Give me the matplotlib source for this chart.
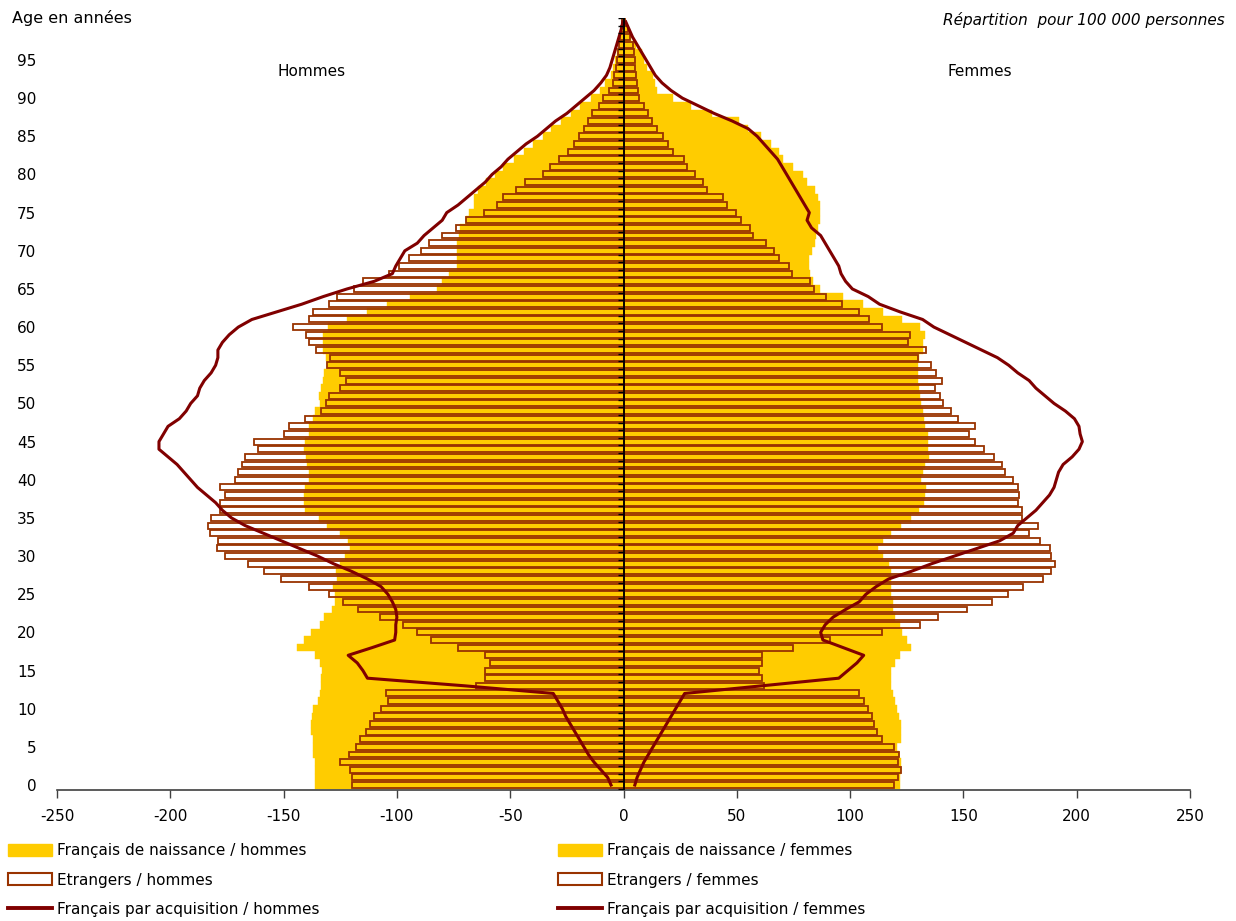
import numpy as np
import matplotlib
matplotlib.use("Agg")
import matplotlib.pyplot as plt
from matplotlib.patches import Patch
from matplotlib.lines import Line2D

plt.rcParams['font.family'] = ['DejaVu Sans']
plt.rcParams['axes.unicode_minus'] = False

# ages 0..100
ages = np.arange(0, 101)

# pour 100 000 personnes
hommes_naissance = [
    136, 136, 136, 136, 137, 137, 137, 138, 138, 137.5,
    137, 135, 134, 133.5, 133.5, 133, 134, 136, 144, 141,
    138, 134, 132, 128.5, 127.5, 127.5, 128, 126.5, 127, 125,
    123, 120.5, 121.5, 125, 131, 134.5, 140.5, 141, 141, 140.5,
    139, 139, 139.5, 140, 141, 140.5, 139, 139, 137, 136,
    134, 134.5, 133.5, 132.5, 132, 131, 131.5, 132.5, 132.5, 132.5,
    130.5, 122, 113, 104.5, 94, 82.5, 80, 77, 73.5, 73.5,
    73.5, 73.5, 72.5, 72, 69.5, 68, 66, 66, 64, 60.5,
    56.5, 53, 48.5, 44, 40, 35.5, 32, 27.5, 23, 19,
    14.5, 10.5, 8, 5.5, 4.5, 3.7, 3, 2, 1.5, 1, 0.5]

hommes_etrangers = [
    120, 120, 120.5, 125, 121, 118, 116.5, 113.5, 112, 110,
    107, 104, 105, 65, 61, 61, 59, 61, 73, 85,
    91, 97.5, 107.5, 117, 124, 130, 139, 151, 158.5, 165.5,
    176, 179.5, 179, 182.5, 183.5, 182, 178, 178, 176, 178,
    171.5, 170, 168.5, 167, 161.5, 163, 150, 147.5, 140.5, 133.5,
    131.5, 130, 125, 122.5, 125, 131, 129.5, 135.5, 139, 140,
    146, 139, 137, 130, 126.5, 119, 115, 103.5, 99, 94.5,
    89.5, 86, 80, 74, 69.5, 61.5, 56, 53, 47.5, 43.5,
    35.5, 32.5, 28.5, 24.5, 22, 19.5, 17.5, 15.5, 14, 11,
    9, 6.5, 4.5, 4, 3.5, 3, 2.5, 2, 1.5, 1, 0.5]

hommes_acquisition = [
    5.5, 7, 10, 13, 15.5, 17.5, 19.5, 21.5, 23.5, 25.5,
    27, 29, 31, 70, 113, 115, 117.5, 121.5, 111, 101,
    100.5, 100.5, 100, 100.5, 102, 104, 107, 113, 120, 128,
    135, 143, 151, 159, 167, 173, 177, 180, 184, 188,
    191, 194, 197, 201, 205, 205, 203, 201, 196, 193,
    191, 188, 187, 185, 182, 180, 179, 179, 177, 174,
    170, 164, 153, 142, 132.5, 122, 110, 102, 100.5, 98.5,
    96.5, 91, 88, 84, 80, 78, 73, 69, 65, 61,
    58, 54, 51, 47, 43, 38, 34, 30, 25, 21,
    17, 13, 10, 7.5, 6, 5, 4, 3, 2, 1, 0.3]

femmes_naissance = [
    122, 122, 122.5, 122.5, 121.5, 120.5, 122.5, 122.5, 122.5, 121.5,
    120.5, 120, 119, 118, 118, 118, 120, 122, 127, 125,
    123, 122, 120, 119, 119, 118, 118, 118, 118, 117,
    114.5, 112.5, 114.5, 118, 122.5, 127, 130.5, 132.5, 133, 133.5,
    131.5, 132, 133, 135, 134.5, 134.5, 134.5, 133, 132.5, 132,
    131.5, 131, 130.5, 130, 130, 130, 130.5, 132, 132, 133,
    131, 123, 114.5, 105.5, 97, 86.5, 83.5, 82.5, 82, 82,
    83, 84.5, 85, 86, 86.5, 86.5, 86.5, 86, 84.5, 81,
    79, 75, 70.5, 68.5, 65, 60.5, 55, 51, 39, 30,
    22, 15, 14, 13, 10.5, 9, 8, 5.5, 3.5, 2, 0.5]

femmes_etrangers = [
    119.5, 121, 122.5, 121, 121.5, 119.5, 114, 112, 110.5, 109.5,
    108, 106, 104, 62, 61, 60, 61, 61, 75, 91,
    114, 131, 139, 151.5, 162.5, 169.5, 176.5, 185, 188.5, 190.5,
    188.5, 188, 184, 179, 183, 176, 176, 174, 174.5, 174,
    172, 168.5, 167, 163.5, 159, 155, 152.5, 155, 147.5, 144.5,
    141, 139.5, 137.5, 140.5, 138, 135.5, 130, 133.5, 125.5, 126.5,
    114, 108.5, 104, 96.5, 89.5, 84, 82.5, 74.5, 73, 68.5,
    66.5, 63, 57, 56, 52, 49.5, 45.5, 44, 37, 35,
    31.5, 28, 26.5, 22, 19.5, 17.5, 15, 12.5, 11, 9,
    7, 6.5, 6, 5.5, 5, 5, 4.5, 4, 3, 2, 0.5]

femmes_acquisition = [
    5, 6, 7.5, 9, 11, 13, 15, 17, 19, 21,
    23, 25, 27, 61, 95, 99, 103, 106, 97, 88,
    87, 89, 92.5, 98, 104, 107, 111.5, 117, 127, 136,
    146, 156, 166, 172, 174, 178, 182, 185, 188, 190,
    191, 192, 194, 198, 201, 202.5, 201.5, 201, 199, 195,
    190, 186, 182, 179, 174, 170, 165, 158, 151, 144,
    137, 132, 122, 113, 108, 101, 98, 96, 95, 93,
    91, 89, 87, 83, 81, 82, 80, 78, 76, 74,
    72, 70, 68, 65, 62, 59, 55, 48, 40, 33,
    26, 21, 17, 14, 12, 10, 8, 6, 4, 2.5, 1]

x_ticks = [-250, -200, -150, -100, -50, 0, 50, 100, 150, 200, 250]
y_ticks = list(range(0, 100, 5))

JAUNE = '#FFCC00'
BRUN = '#993300'
ROUGE = '#800000'

W, H = 1236, 921
fig = plt.figure(figsize=(W / 100, H / 100), dpi=100)
ax = fig.add_axes([57 / W, 131 / H, (1190 - 57) / W, 772 / H])

hn = -np.array(hommes_naissance)
he = -np.array(hommes_etrangers)
ha = -np.array(hommes_acquisition)

ax.barh(ages, hn, height=1.0, color=JAUNE, edgecolor=JAUNE, linewidth=0.3, zorder=1)
ax.barh(ages, femmes_naissance, height=1.0, color=JAUNE, edgecolor=JAUNE, linewidth=0.3, zorder=1)
ax.barh(ages, he, height=0.78, facecolor='none', edgecolor=BRUN, linewidth=1.3, zorder=2)
ax.barh(ages, femmes_etrangers, height=0.78, facecolor='none', edgecolor=BRUN, linewidth=1.3, zorder=2)
ax.plot(ha, ages, color=ROUGE, lw=2.2, zorder=3, solid_joinstyle='round')
ax.plot(femmes_acquisition, ages, color=ROUGE, lw=2.2, zorder=3, solid_joinstyle='round')

# axe central avec graduations
ax.axvline(0, color='black', lw=1.3, zorder=4)
ax.hlines(np.arange(-0.5, 101, 1), -2.5, 0, color='black', lw=1, zorder=4)

ax.set_xlim(-250, 250)
ax.set_ylim(-0.65, 100.5)
ax.set_xticks(x_ticks)
ax.set_xticklabels([str(v) for v in x_ticks])
ax.set_yticks(y_ticks)
ax.set_yticklabels([str(v) for v in y_ticks])
ax.tick_params(axis='x', direction='out', length=6, width=1, color='#404040',
               labelsize=11, pad=8)
ax.tick_params(axis='y', length=0, labelsize=11, pad=15)
for s in ['left', 'right', 'top']:
    ax.spines[s].set_visible(False)
ax.spines['bottom'].set_color('#404040')
ax.spines['bottom'].set_linewidth(1.2)

fig.text(12 / W, 1 - 18 / H, 'Age en années', fontsize=11.5, va='center', ha='left')
fig.text(1225 / W, 1 - 20 / H, 'Répartition  pour 100 000 personnes', fontsize=11,
         style='italic', va='center', ha='right')
fig.text(312 / W, 1 - 71 / H, 'Hommes', fontsize=11, va='center', ha='center')
fig.text(980 / W, 1 - 71 / H, 'Femmes', fontsize=11, va='center', ha='center')

h_nais = Patch(facecolor=JAUNE, edgecolor=JAUNE)
h_etr = Patch(facecolor='white', edgecolor=BRUN, linewidth=1.5)
h_acq = Line2D([], [], color=ROUGE, lw=2.8)

kw = dict(loc='upper left', frameon=False, fontsize=11, handlelength=2.9,
          handleheight=0.85, handletextpad=0.3, labelspacing=0.95,
          borderpad=0, borderaxespad=0)
leg1 = fig.legend([h_nais, h_etr, h_acq],
                  ['Français de naissance / hommes', 'Etrangers / hommes',
                   'Français par acquisition / hommes'],
                  bbox_to_anchor=(8 / W, 1 - 843 / H), **kw)
leg2 = fig.legend([h_nais, h_etr, h_acq],
                  ['Français de naissance / femmes', 'Etrangers / femmes',
                   'Français par acquisition / femmes'],
                  bbox_to_anchor=(558 / W, 1 - 843 / H), **kw)

fig.savefig('out.png', dpi=100)
